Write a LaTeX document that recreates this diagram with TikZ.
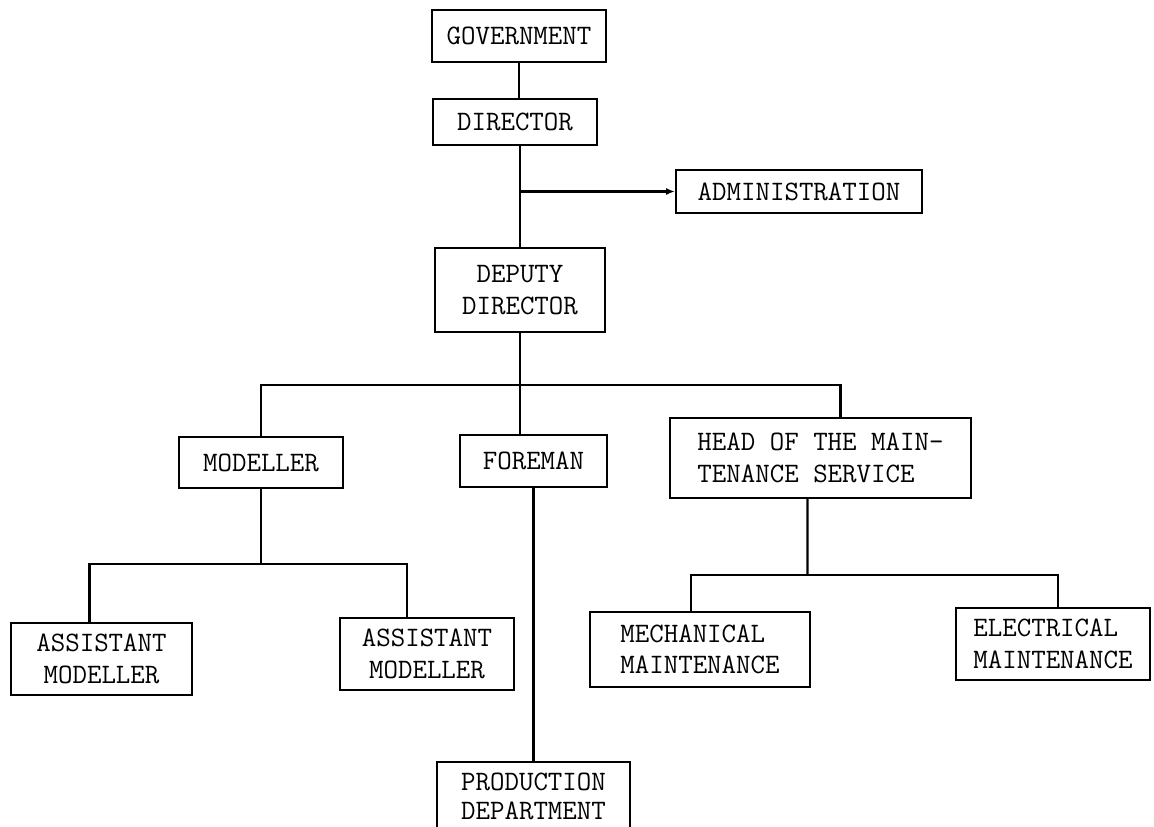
\documentclass[tikz,border=0pt]{standalone}
\usepackage{tikz}
\usetikzlibrary{positioning,arrows.meta}
\begin{document}
\begin{tikzpicture}[line width=1.3pt,
	box/.style={draw,font=\ttfamily\fontsize{16}{18}\selectfont,align=center,inner sep=2pt},
	lbox/.style={box,align=left}]
	\useasboundingbox (0,0) rectangle (23.08,-16.54);
	\node[box,minimum width=3.48cm,minimum height=1.04cm] (gov) at (10.38,-0.72) {GOVERNMENT};
	\node[box,minimum width=3.28cm,minimum height=0.92cm] (dir) at (10.30,-2.44) {DIRECTOR};
	\node[box,minimum width=4.92cm,minimum height=0.86cm] (adm) at (15.98,-3.83) {ADMINISTRATION};
	\node[box,minimum width=3.40cm,minimum height=1.68cm] (dep) at (10.40,-5.80) {DEPUTY\\DIRECTOR};
	\node[box,minimum width=3.28cm,minimum height=1.02cm] (mod) at (5.22,-9.25) {MODELLER};
	\node[box,minimum width=2.94cm,minimum height=1.04cm] (fore) at (10.67,-9.22) {FOREMAN};
	\node[lbox,minimum width=6.02cm,minimum height=1.60cm] (head) at (16.41,-9.16) {HEAD OF THE MAIN-\\TENANCE SERVICE};
	\node[box,minimum width=3.62cm,minimum height=1.44cm] (am1) at (2.03,-13.18) {ASSISTANT\\MODELLER};
	\node[box,minimum width=3.48cm,minimum height=1.44cm] (am2) at (8.54,-13.08) {ASSISTANT\\MODELLER};
	\node[lbox,minimum width=4.40cm,minimum height=1.50cm] (mech) at (14.00,-12.99) {MECHANICAL\\MAINTENANCE};
	\node[lbox,minimum width=3.88cm,minimum height=1.44cm] (elec) at (21.06,-12.88) {ELECTRICAL\\MAINTENANCE};
	\node[box,font=\ttfamily\fontsize{16}{16.5}\selectfont,minimum width=3.86cm,inner ysep=6pt,anchor=north] (prod) at (10.67,-15.22) {PRODUCTION\\DEPARTMENT};
	% branch points
	\coordinate (bus) at (10.40,-7.70);
	\coordinate (sub1) at (5.22,-11.28);
	\coordinate (sub2) at (16.15,-11.50);
	\draw (gov.south) -- (gov.south |- dir.north);
	\draw (dep.north) -- (dep.north |- dir.south);
	\draw[-{Latex[length=5pt,width=4pt]}] (dep.north |- adm.west) -- (adm.west);
	\draw (dep.south) -- (bus) -- (bus |- fore.north);
	\draw (mod.north) |- (bus) -| ([xshift=0.40cm]head.north);
	\draw (mod.south) -- (sub1);
	\draw ([xshift=-0.24cm]am1.north) |- (sub1) -| ([xshift=-0.40cm]am2.north);
	\draw (fore.south) -- (prod.north);
	\draw ([xshift=-0.26cm]head.south) -- (sub2);
	\draw ([xshift=-0.18cm]mech.north) |- (sub2) -| ([xshift=0.10cm]elec.north);
\end{tikzpicture}
\end{document}
